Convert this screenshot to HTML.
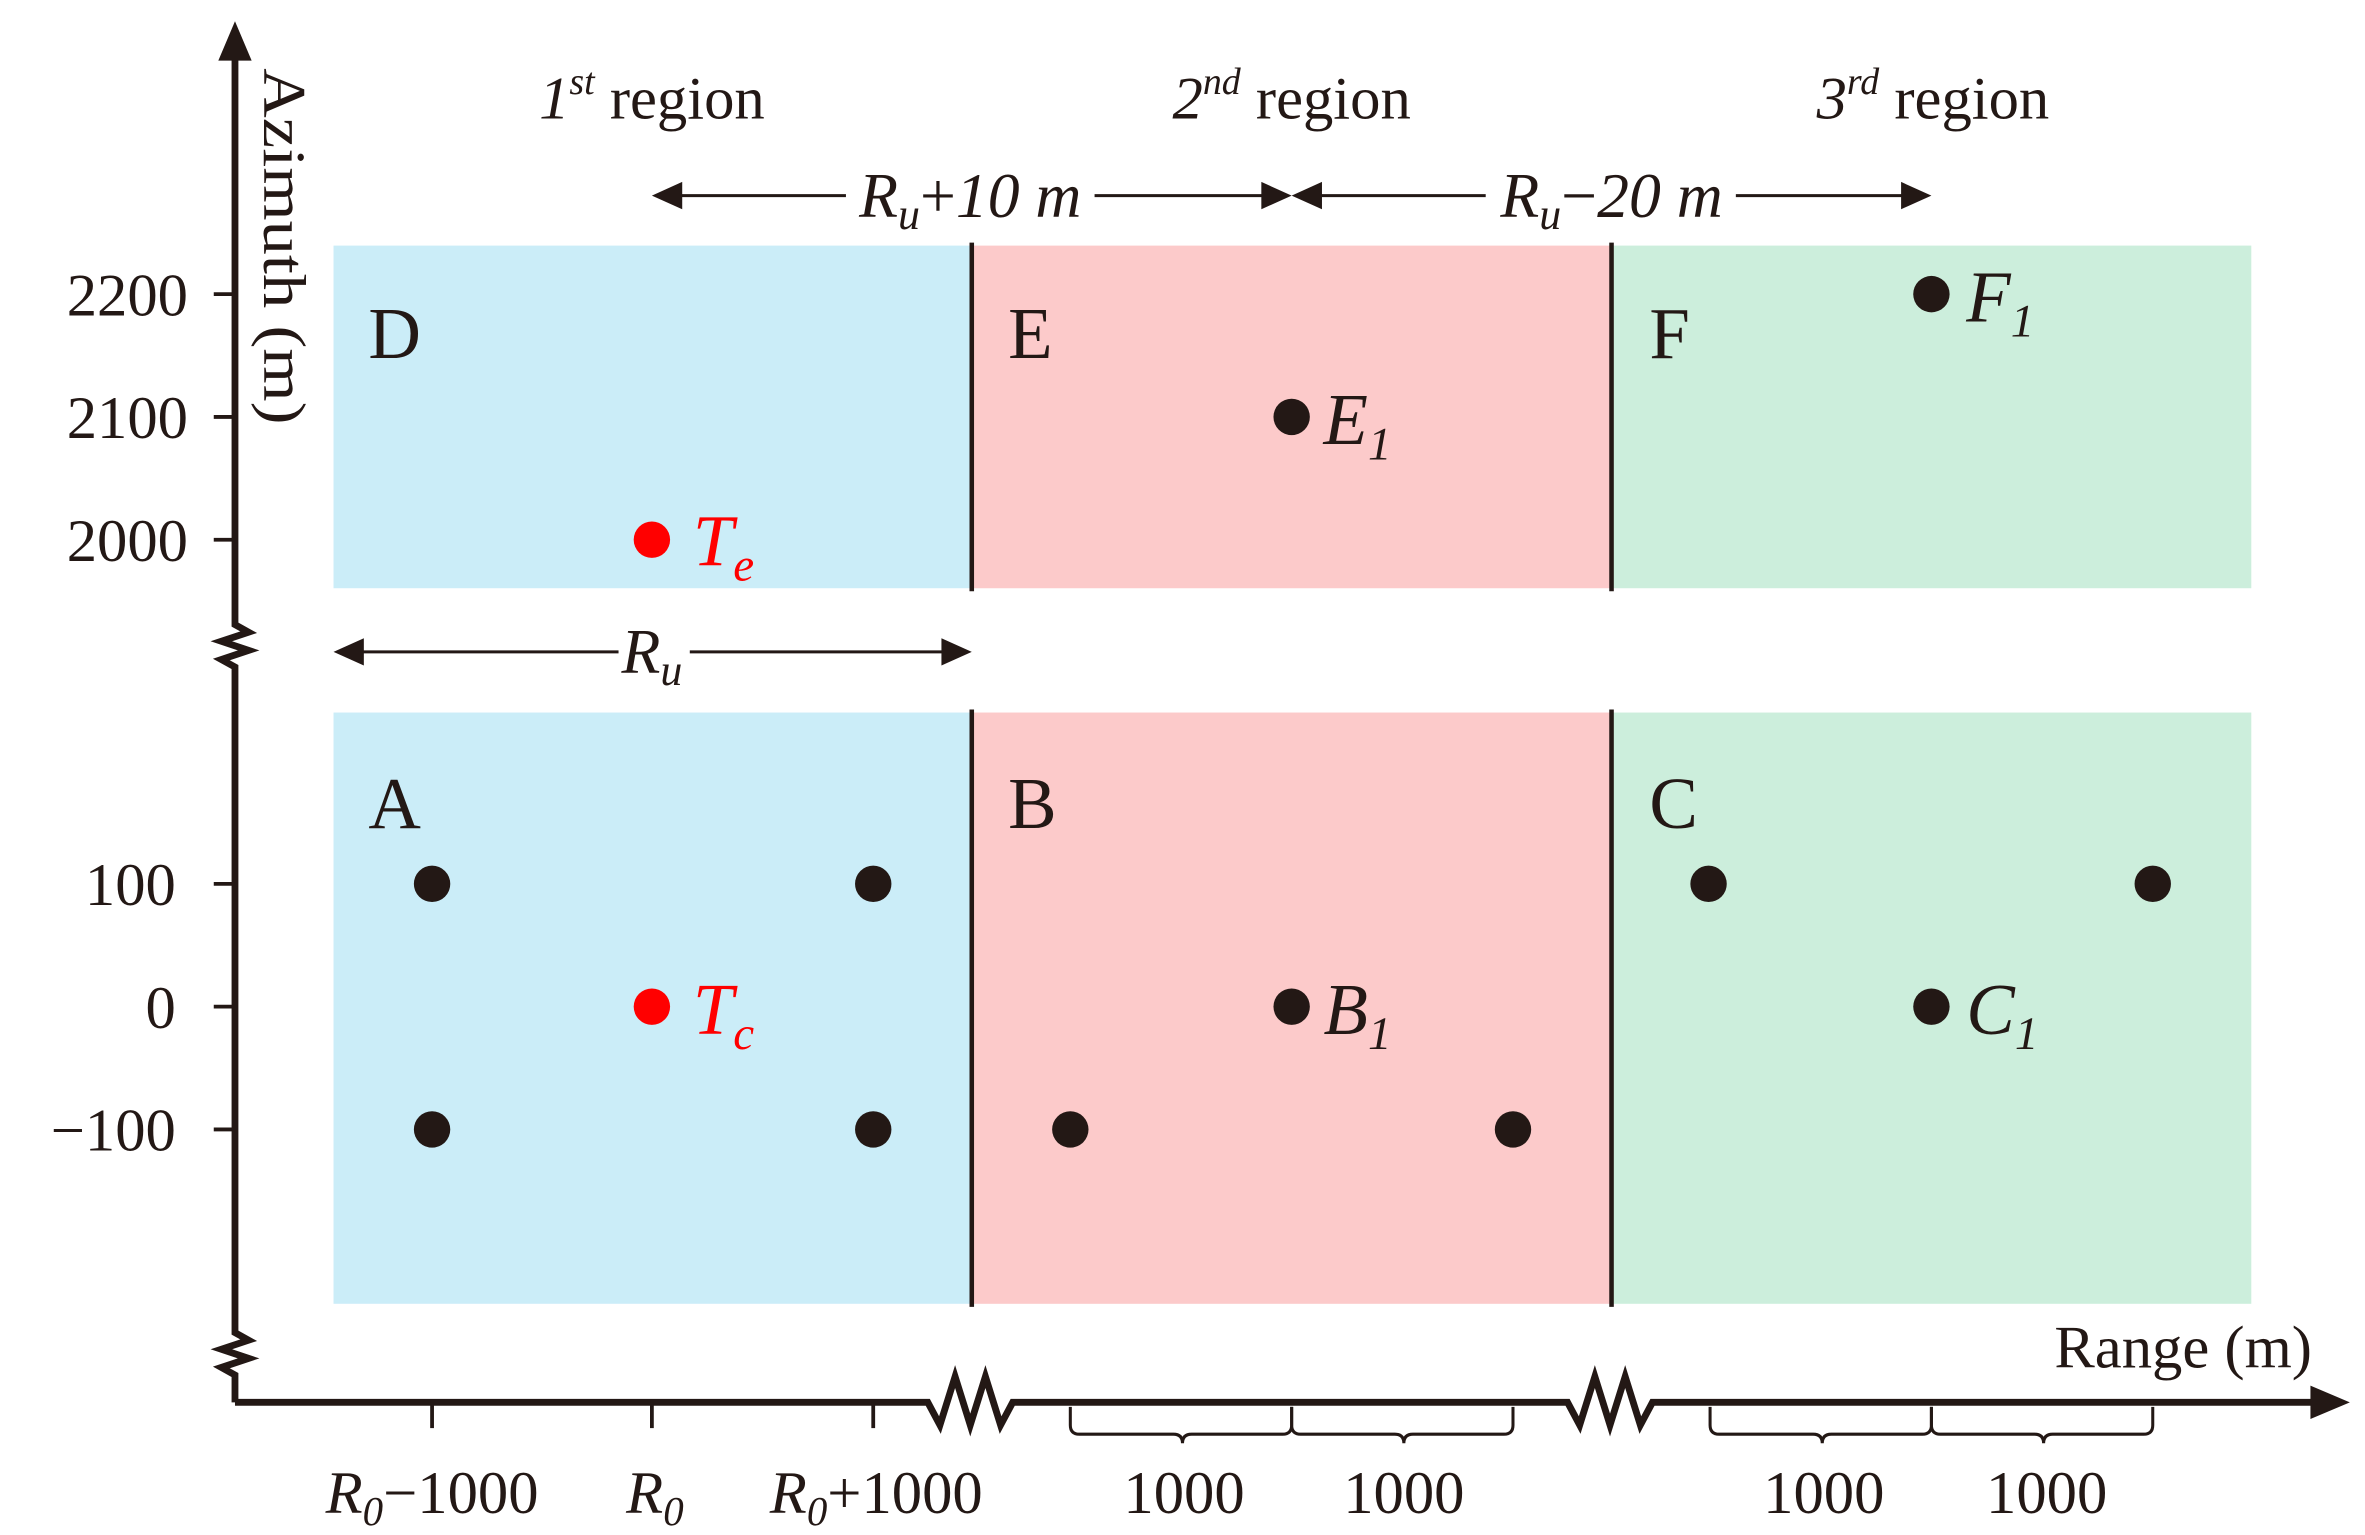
<!DOCTYPE html>
<html><head><meta charset="utf-8"><style>html,body{margin:0;padding:0;background:#fff}svg{display:block}</style></head><body>
<svg width="2365" height="1535" viewBox="0 0 1560 1012.5" xmlns="http://www.w3.org/2000/svg" font-family="Liberation Serif, serif" fill="#231815">
<rect x="0" y="0" width="1560" height="1012.5" fill="#fff"/>
<rect x="220" y="162" width="421" height="226" fill="#CBEDF8"/>
<rect x="641" y="162" width="422" height="226" fill="#FCCACA"/>
<rect x="1063" y="162" width="422" height="226" fill="#CCEEDC"/>
<rect x="220" y="470" width="421" height="390" fill="#CBEDF8"/>
<rect x="641" y="470" width="422" height="390" fill="#FCCACA"/>
<rect x="1063" y="470" width="422" height="390" fill="#CCEEDC"/>
<g stroke="#231815" stroke-width="3">
<line x1="641" y1="160" x2="641" y2="390"/><line x1="1063" y1="160" x2="1063" y2="390"/>
<line x1="641" y1="468" x2="641" y2="862"/><line x1="1063" y1="468" x2="1063" y2="862"/>
</g>
<g stroke="#231815" stroke-width="4.5" fill="none" stroke-linejoin="miter">
<polyline points="155,925 155,907 146,902 164,896 146,890 164,884 155,879 155,440 146,435 164,429 146,423 164,417 155,412 155,38"/>
<polyline points="155,925 612,925 620,940 630,908 640,940 650,908 660,940 668,925 1034,925 1042,940 1052,908 1062,940 1072,908 1082,940 1090,925 1525,925"/>
</g>
<polygon points="155,14 144,40 166,40"/>
<polygon points="1550,925 1524,914 1524,936"/>
<g stroke="#231815" stroke-width="2.5">
<line x1="141" y1="194" x2="155" y2="194"/><line x1="141" y1="275" x2="155" y2="275"/><line x1="141" y1="356" x2="155" y2="356"/>
<line x1="141" y1="583" x2="155" y2="583"/><line x1="141" y1="664" x2="155" y2="664"/><line x1="141" y1="745" x2="155" y2="745"/>
<line x1="285" y1="925" x2="285" y2="942"/><line x1="430" y1="925" x2="430" y2="942"/><line x1="576" y1="925" x2="576" y2="942"/>
</g>
<g font-size="40" text-anchor="end">
<text x="124" y="208">2200</text><text x="124" y="289">2100</text><text x="124" y="370">2000</text>
<text x="116" y="597">100</text><text x="116" y="678">0</text><text x="116" y="759">−100</text>
</g>
<text transform="translate(174,45) rotate(90)" font-size="40" textLength="235" lengthAdjust="spacingAndGlyphs">Azimuth (m)</text>
<text x="1525" y="902" font-size="40" text-anchor="end">Range (m)</text>
<g stroke="#231815" stroke-width="2" fill="none">
<path d="M706,928 v12 q0,6 6,6 h62 q6,0 6,6 q0,-6 6,-6 h60 q6,0 6,-6 v-12"/>
<path d="M852,928 v12 q0,6 6,6 h62 q6,0 6,6 q0,-6 6,-6 h60 q6,0 6,-6 v-12"/>
<path d="M1128,928 v12 q0,6 6,6 h62 q6,0 6,6 q0,-6 6,-6 h60 q6,0 6,-6 v-12"/>
<path d="M1274,928 v12 q0,6 6,6 h62 q6,0 6,6 q0,-6 6,-6 h60 q6,0 6,-6 v-12"/>
</g>
<g font-size="40" text-anchor="middle">
<text x="285" y="998"><tspan font-style="italic">R</tspan><tspan font-style="italic" font-size="27" dy="8">0</tspan><tspan dy="-8">−1000</tspan></text>
<text x="432" y="998"><tspan font-style="italic">R</tspan><tspan font-style="italic" font-size="27" dy="8">0</tspan></text>
<text x="578" y="998"><tspan font-style="italic">R</tspan><tspan font-style="italic" font-size="27" dy="8">0</tspan><tspan dy="-8">+1000</tspan></text>
<text x="781" y="998">1000</text><text x="926" y="998">1000</text>
<text x="1203" y="998">1000</text><text x="1350" y="998">1000</text>
</g>
<g font-size="40" text-anchor="middle">
<text x="430" y="78"><tspan font-style="italic">1</tspan><tspan font-style="italic" font-size="25" dy="-16">st</tspan><tspan dy="16"> region</tspan></text>
<text x="852" y="78"><tspan font-style="italic">2</tspan><tspan font-style="italic" font-size="25" dy="-16">nd</tspan><tspan dy="16"> region</tspan></text>
<text x="1275" y="78"><tspan font-style="italic">3</tspan><tspan font-style="italic" font-size="25" dy="-16">rd</tspan><tspan dy="16"> region</tspan></text>
</g>
<g stroke="#231815" stroke-width="2">
<line x1="440" y1="129" x2="558" y2="129"/><line x1="722" y1="129" x2="842" y2="129"/>
<line x1="862" y1="129" x2="980" y2="129"/><line x1="1145" y1="129" x2="1264" y2="129"/>
<line x1="230" y1="430" x2="408" y2="430"/><line x1="455" y1="430" x2="630" y2="430"/>
</g>
<polygon points="430,129 450,120 450,138"/><polygon points="852,129 832,120 832,138"/>
<polygon points="852,129 872,120 872,138"/><polygon points="1274,129 1254,120 1254,138"/>
<polygon points="220,430 240,421 240,439"/><polygon points="641,430 621,421 621,439"/>
<g font-size="42" font-style="italic" text-anchor="middle">
<text x="640" y="143">R<tspan font-size="29" dy="8">u</tspan><tspan dy="-8" font-style="normal">+</tspan>10 m</text>
<text x="1063" y="143">R<tspan font-size="29" dy="8">u</tspan><tspan dy="-8" font-style="normal">−</tspan>20 m</text>
<text x="430" y="444">R<tspan font-size="29" dy="8">u</tspan></text>
</g>
<g font-size="48">
<text x="243" y="236">D</text><text x="665" y="236">E</text><text x="1088" y="236">F</text>
<text x="243" y="546">A</text><text x="665" y="546">B</text><text x="1088" y="546">C</text>
</g>
<g>
<circle cx="285" cy="583" r="12"/><circle cx="576" cy="583" r="12"/>
<circle cx="285" cy="745" r="12"/><circle cx="576" cy="745" r="12"/>
<circle cx="852" cy="664" r="12"/><circle cx="706" cy="745" r="12"/><circle cx="998" cy="745" r="12"/>
<circle cx="852" cy="275" r="12"/><circle cx="1127" cy="583" r="12"/><circle cx="1420" cy="583" r="12"/>
<circle cx="1274" cy="664" r="12"/><circle cx="1274" cy="194" r="12"/>
<circle cx="430" cy="664" r="12" fill="#f00"/><circle cx="430" cy="356" r="12" fill="#f00"/>
</g>
<g font-size="48" font-style="italic">
<text x="457" y="373" fill="#f00">T<tspan font-size="31" dy="10">e</tspan></text>
<text x="457" y="682" fill="#f00">T<tspan font-size="31" dy="10">c</tspan></text>
<text x="873" y="293">E<tspan font-size="31" dy="10">1</tspan></text>
<text x="873" y="682">B<tspan font-size="31" dy="10">1</tspan></text>
<text x="1297" y="212">F<tspan font-size="31" dy="10">1</tspan></text>
<text x="1297" y="682">C<tspan font-size="31" dy="10">1</tspan></text>
</g>
</svg>
</body></html>
